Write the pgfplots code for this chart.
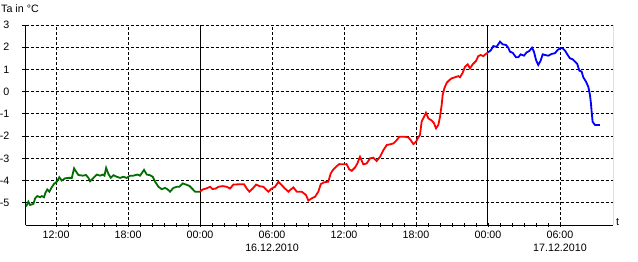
\documentclass[border=0pt]{standalone}
\usepackage{fontspec}
\setmainfont{Liberation Sans}
\usepackage{pgfplots}
\pgfplotsset{compat=1.18}
\definecolor{dgreen}{RGB}{0,110,0}
\newcommand{\chartfont}{\fontsize{10.7bp}{12.3bp}\selectfont}
\begin{document}
\begin{tikzpicture}[font=\chartfont]
\useasboundingbox (0,0) rectangle (638bp,-262bp);
\begin{axis}[
  at={(25.5bp,-225bp)}, anchor=south west,
  scale only axis, width=587.5bp, height=200bp,
  xmin=-14.55, xmax=34.42, ymin=-6, ymax=3,
  axis x line*=bottom, axis y line*=left,
  axis line style={line width=1bp, black},
  xtick={-12,-6,0,6,12,18,24,30},
  xticklabels={12:00,18:00,00:00,{06:00\\16.12.2010},12:00,18:00,00:00,{06:00\\17.12.2010}},
  minor x tick num=5,
  ytick={-5,-4,-3,-2,-1,0,1,2,3},
  yticklabels={-5,-4,-3,-2,-1,0,1,2,3},
  xtick align=center, ytick align=outside,
  major tick length=3.5bp, minor tick length=3.5bp,
  tick style={black, line width=0.8bp},
  tick label style={font=\chartfont},
  xticklabel style={align=center, inner sep=0pt, yshift=-4.5bp},
  yticklabel style={inner sep=0pt, xshift=-12.5bp},
  ymajorgrids,
  major grid style={black, line width=0.8bp, dash pattern=on 3bp off 2bp},
]
\foreach \gx in {-12,-6,6,12,18,30} {
  \edef\tmp{\noexpand\draw[black, line width=0.8bp, dash pattern=on 3bp off 2bp] (axis cs:\gx,-6) -- (axis cs:\gx,3);}
  \tmp
}
\draw[black, line width=1bp] (axis cs:0,-6) -- (axis cs:0,3);
\draw[black, line width=1bp] (axis cs:24,-6) -- (axis cs:24,3);
\draw[black, line width=1bp] (rel axis cs:1,0) -- (rel axis cs:1,1);
\addplot[dgreen, line width=1.8bp] coordinates {
(-14.5,-5.17) (-14.31,-4.95) (-14.17,-5.1) (-13.89,-5.05) (-13.75,-4.8) (-13.56,-4.7)
(-13.33,-4.75) (-13.19,-4.7) (-13.0,-4.75) (-12.89,-4.55) (-12.73,-4.4) (-12.56,-4.5)
(-12.36,-4.3) (-12.17,-4.15) (-11.94,-4.05) (-11.73,-3.85) (-11.53,-4.0) (-11.25,-3.9)
(-10.97,-3.88) (-10.69,-3.88) (-10.5,-3.45) (-10.33,-3.6) (-10.14,-3.75) (-9.78,-3.78)
(-9.5,-3.75) (-9.31,-3.88) (-9.17,-4.03) (-8.89,-3.88) (-8.61,-3.73) (-8.33,-3.78)
(-8.11,-3.73) (-7.97,-3.78) (-7.83,-3.43) (-7.64,-3.7) (-7.44,-3.88) (-7.22,-3.76)
(-6.94,-3.83) (-6.67,-3.88) (-6.39,-3.83) (-6.11,-3.88) (-5.83,-3.78) (-5.56,-3.78)
(-5.22,-3.73) (-5.0,-3.78) (-4.67,-3.52) (-4.44,-3.73) (-4.17,-3.76) (-3.94,-3.83)
(-3.75,-4.05) (-3.47,-4.28) (-3.19,-4.39) (-2.92,-4.33) (-2.72,-4.39) (-2.5,-4.5)
(-2.22,-4.33) (-1.94,-4.28) (-1.72,-4.28) (-1.44,-4.13) (-1.17,-4.18) (-0.89,-4.24)
(-0.61,-4.39) (-0.42,-4.5) (0,-4.5)
};
\addplot[red, line width=1.8bp] coordinates {
(0,-4.5) (0.22,-4.4) (0.5,-4.36) (0.83,-4.28) (1.03,-4.38) (1.31,-4.36) (1.53,-4.28)
(1.89,-4.25) (2.22,-4.28) (2.5,-4.36) (2.78,-4.18) (3.19,-4.17) (3.67,-4.17) (3.89,-4.36)
(4.11,-4.5) (4.39,-4.36) (4.67,-4.18) (4.94,-4.25) (5.28,-4.28) (5.47,-4.38) (5.69,-4.5)
(5.97,-4.36) (6.25,-4.28) (6.53,-4.06) (6.81,-4.21) (7.08,-4.36) (7.36,-4.5) (7.56,-4.4)
(7.78,-4.31) (8.06,-4.5) (8.47,-4.5) (8.83,-4.65) (9.03,-4.9) (9.31,-4.8) (9.58,-4.73)
(9.86,-4.5) (10.06,-4.16) (10.33,-4.08) (10.69,-4.05) (10.89,-3.68) (11.11,-3.5)
(11.39,-3.35) (11.61,-3.26) (12.0,-3.27) (12.22,-3.26) (12.44,-3.5) (12.64,-3.56)
(12.92,-3.41) (13.11,-3.23) (13.33,-2.93) (13.61,-3.27) (13.89,-3.23) (14.17,-3.0)
(14.44,-2.97) (14.72,-3.12) (15.0,-2.93) (15.28,-2.63) (15.56,-2.4) (15.83,-2.37)
(16.11,-2.33) (16.39,-2.18) (16.61,-2.03) (17.08,-2.03) (17.36,-2.06) (17.56,-2.18)
(17.78,-2.36) (18.0,-2.25) (18.19,-2.06) (18.33,-1.95) (18.47,-1.35) (18.67,-1.13)
(18.83,-0.95) (19.03,-1.2) (19.31,-1.3) (19.5,-1.42) (19.67,-1.65) (19.86,-1.5)
(20.0,-1.13) (20.14,-0.6) (20.22,-0.15) (20.36,0.15) (20.56,0.4) (20.78,0.52)
(20.97,0.6) (21.25,0.65) (21.53,0.7) (21.67,0.65) (21.89,0.85) (22.08,1.12) (22.31,1.23)
(22.5,1.05) (22.72,1.23) (23.0,1.38) (23.19,1.6) (23.39,1.65) (23.61,1.6) (23.83,1.7)
(24.0,1.77)
};
\addplot[blue, line width=1.8bp] coordinates {
(24.0,1.77) (24.22,1.85) (24.44,2.05) (24.72,2.02) (25.0,2.25) (25.22,2.13) (25.5,2.1)
(25.69,1.98) (25.83,1.8) (26.06,1.75) (26.33,1.55) (26.53,1.55) (26.72,1.68) (27.0,1.62)
(27.22,1.77) (27.44,1.83) (27.67,1.98) (27.83,1.8) (28.0,1.43) (28.19,1.2) (28.39,1.4)
(28.56,1.68) (28.75,1.65) (29.03,1.62) (29.31,1.7) (29.58,1.73) (29.81,1.88) (30.0,1.95)
(30.22,1.95) (30.42,1.85) (30.61,1.68) (30.83,1.5) (31.06,1.46) (31.25,1.35) (31.44,1.25)
(31.61,0.95) (31.81,0.9) (31.94,0.65) (32.17,0.45) (32.36,0.22) (32.5,-0.15) (32.58,-0.52)
(32.64,-0.9) (32.72,-1.35) (32.92,-1.5) (33.33,-1.5)
};
\end{axis}
\node[anchor=base west, inner sep=0pt] at (1bp,-12.5bp) {Ta in °C};
\node[anchor=base west, inner sep=0pt] at (616bp,-225bp) {t};
\end{tikzpicture}
\end{document}
